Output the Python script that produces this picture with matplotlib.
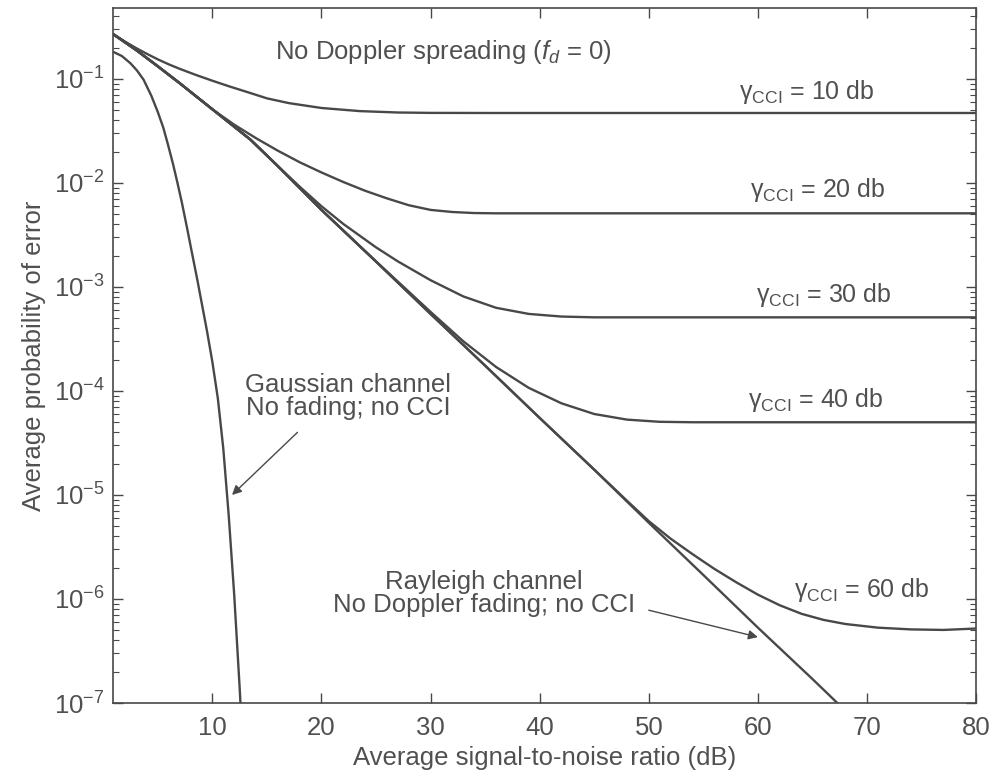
import numpy as np
import matplotlib
matplotlib.use("Agg")
import matplotlib.pyplot as plt
from matplotlib.ticker import LogLocator, NullFormatter

plt.rcParams['font.family'] = ['Liberation Sans', 'DejaVu Sans']
plt.rcParams['mathtext.fontset'] = 'custom'
plt.rcParams['mathtext.rm'] = 'Liberation Sans'
plt.rcParams['mathtext.it'] = 'Liberation Sans:italic'

# values (SNR in dB, probability of error)
snr_gauss = [1, 1.7, 2.5, 3.1, 3.7, 4.4, 5.0, 5.5, 5.9, 6.4, 6.8, 7.2, 7.7, 8.1, 8.6, 9.0,
             9.5, 10.0, 10.5, 11.0, 11.5, 12.0, 12.5, 12.7]
pe_gauss = [0.18, 0.166, 0.141, 0.12, 0.098, 0.069, 0.048, 0.034, 0.024, 0.0151, 0.010,
            6.5e-3, 3.6e-3, 2.2e-3, 1.2e-3, 7.2e-4, 3.8e-4, 1.9e-4, 8.5e-5, 2.8e-5,
            6.3e-6, 1.1e-6, 1.4e-7, 5.6e-8]

snr_ray = [1, 3, 5, 7, 10, 13.5, 16, 20, 25, 30, 35, 40, 45, 50, 55, 60, 65, 67.5]
pe_ray = [0.265, 0.19, 0.132, 0.091, 0.051, 0.026, 0.0145, 5.5e-3, 1.75e-3, 5.5e-4, 1.75e-4,
          5.5e-5, 1.75e-5, 5.4e-6, 1.7e-6, 5.3e-7, 1.7e-7, 9.5e-8]

snr_10 = [1, 2, 3, 4, 5, 6, 7, 8.5, 10, 11.5, 13.5, 15, 17, 20, 23.5, 27, 30, 35, 50, 65, 80]
pe_10 = [0.265, 0.228, 0.198, 0.174, 0.154, 0.138, 0.125, 0.109, 0.096, 0.085, 0.073, 0.065,
         0.0585, 0.0525, 0.049, 0.0475, 0.0471, 0.047, 0.047, 0.047, 0.047]

snr_20 = [1, 3, 5, 7, 10, 11, 12, 14, 16, 18, 20, 22, 24, 26, 28, 30, 32, 34, 36, 50, 65, 80]
pe_20 = [0.265, 0.19, 0.132, 0.091, 0.051, 0.043, 0.0363, 0.0269, 0.0204, 0.0158, 0.0126,
         0.0102, 0.0084, 0.0071, 0.0061, 0.0055, 0.00525, 0.00513, 0.0051, 0.0051, 0.0051, 0.0051]

snr_30 = [1, 3, 5, 7, 10, 13.5, 16, 18, 20, 22, 25, 27, 30, 33, 36, 39, 42, 45, 60, 80]
pe_30 = [0.265, 0.19, 0.132, 0.091, 0.051, 0.026, 0.0145, 9.2e-3, 5.96e-3, 4.03e-3, 2.4e-3,
         1.76e-3, 1.16e-3, 8.1e-4, 6.3e-4, 5.5e-4, 5.19e-4, 5.1e-4, 5.1e-4, 5.1e-4]

snr_40 = [1, 3, 5, 7, 10, 13.5, 16, 20, 25, 28, 30, 33, 36, 39, 42, 45, 48, 51, 54, 65, 80]
pe_40 = [0.265, 0.19, 0.132, 0.091, 0.051, 0.026, 0.0145, 5.5e-3, 1.76e-3, 9.0e-4, 5.75e-4,
         3.0e-4, 1.7e-4, 1.07e-4, 7.6e-5, 6.0e-5, 5.3e-5, 5.05e-5, 5.0e-5, 5.0e-5, 5.0e-5]

snr_60 = [1, 3, 5, 7, 10, 13.5, 16, 20, 25, 30, 35, 40, 45, 48, 50, 52, 54, 56, 58, 60, 62,
          64, 66, 68, 71, 74, 77, 80]
pe_60 = [0.265, 0.19, 0.132, 0.091, 0.051, 0.026, 0.0145, 5.5e-3, 1.75e-3, 5.5e-4, 1.75e-4,
         5.5e-5, 1.75e-5, 8.8e-6, 5.6e-6, 3.8e-6, 2.7e-6, 1.95e-6, 1.45e-6, 1.1e-6, 8.7e-7,
         7.2e-7, 6.3e-7, 5.75e-7, 5.3e-7, 5.1e-7, 5.04e-7, 5.2e-7]

cci_labels = ["10", "20", "30", "40", "60"]
cci_label_x = [64.5, 65.5, 66, 65.3, 69.5]
cci_label_y = [0.074, 8.6e-3, 8.4e-4, 8.2e-5, 1.23e-6]

ink = '#484848'
txt = '#505050'
fs = 18.5

fig = plt.figure(figsize=(9.92, 7.78), dpi=100)
ax = fig.add_axes([0.114, 0.0964, 0.87, 0.8933])

for xs, ys in [(snr_gauss, pe_gauss), (snr_ray, pe_ray), (snr_10, pe_10), (snr_20, pe_20),
               (snr_30, pe_30), (snr_40, pe_40), (snr_60, pe_60)]:
    ax.plot(xs, ys, color=ink, lw=1.7)

ax.set_yscale('log')
ax.set_xlim(0.9, 80)
ax.set_ylim(1e-7, 0.48)
ax.set_xticks([10, 20, 30, 40, 50, 60, 70, 80])
ax.yaxis.set_major_locator(LogLocator(base=10, numticks=12))
ax.yaxis.set_minor_locator(LogLocator(base=10, subs=np.arange(2, 10), numticks=12))
ax.yaxis.set_minor_formatter(NullFormatter())
ax.tick_params(which='both', direction='in', top=True, right=True, color=ink,
               labelcolor=txt, labelsize=fs)
ax.tick_params(axis='x', pad=9)
ax.tick_params(axis='y', pad=6)
ax.tick_params(which='major', length=7, width=1)
ax.tick_params(which='minor', length=4, width=0.8)
for s in ax.spines.values():
    s.set_color(ink)
    s.set_linewidth(1.2)

ax.set_xlabel("Average signal-to-noise ratio (dB)", fontsize=fs, color=txt, labelpad=5)
ax.set_ylabel("Average probability of error", fontsize=fs, color=txt, labelpad=6)

ax.text(31.2, 0.18, "No Doppler spreading ($f_d$ = 0)", fontsize=fs, color=txt,
        ha='center', va='center')

for lab, lx, ly in zip(cci_labels, cci_label_x, cci_label_y):
    ax.text(lx, ly, r"$\mathregular{γ_{CCI}}$ = " + lab + " db", fontsize=fs - 0.5, color=txt,
            ha='center', va='center')

ax.text(13.0, 8.9e-5, "Gaussian channel\nNo fading; no CCI", fontsize=fs, color=txt,
        ha='left', va='center', multialignment='center', linespacing=0.95)
ax.annotate("", xy=(11.8, 1.0e-5), xytext=(17.8, 4.0e-5),
            arrowprops=dict(arrowstyle='-|>', color=ink, lw=1, shrinkA=0, shrinkB=0,
                            mutation_scale=14))

ax.text(34.9, 1.12e-6, "Rayleigh channel\nNo Doppler fading; no CCI", fontsize=fs, color=txt,
        ha='center', va='center', linespacing=0.95)
ax.annotate("", xy=(60, 4.3e-7), xytext=(50.0, 7.8e-7),
            arrowprops=dict(arrowstyle='-|>', color=ink, lw=1, shrinkA=0, shrinkB=0,
                            mutation_scale=14))

plt.savefig("out.png", dpi=100)
